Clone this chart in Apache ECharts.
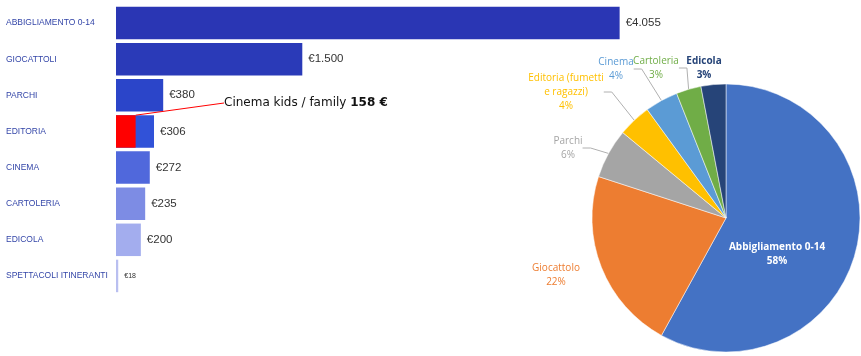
<!DOCTYPE html>
<html>
<head>
<meta charset="utf-8">
<script src="https://cdn.jsdelivr.net/npm/echarts@6/dist/echarts.min.js"></script>
<style>
html,body{margin:0;padding:0;background:#fff;}
#chart{width:861px;height:356px;}
</style>
</head>
<body>
<div id="chart"></div>
<script>
// ---- data ----
const categories = ['ABBIGLIAMENTO 0-14','GIOCATTOLI','PARCHI','EDITORIA','CINEMA','CARTOLERIA','EDICOLA','SPETTACOLI ITINERANTI'];
const spendValues = [4055, 1500, 380, 306, 272, 235, 200, 18];
const valueLabels = ['€4.055','€1.500','€380','€306','€272','€235','€200','€18'];
const cinemaKidsValues = [null, null, null, 158, null, null, null, null];
const cinemaKidsText = 'Cinema kids / family';
const cinemaKidsAmount = '158 €';
const pieNames = ['Abbigliamento 0-14','Giocattolo','Parchi','Editoria (fumetti\ne ragazzi)','Cinema','Cartoleria','Edicola'];
const piePercent = [58, 22, 6, 4, 4, 3, 3];

// ---- styles ----
const barColors = ['#2a36b4','#2a3ab8','#2b45c9','#3152d8','#5068dc','#7d8ce4','#a3adee','#b9bff0'];
const pieColors = ['#4472c4','#ed7d31','#a5a5a5','#ffc000','#5b9bd5','#70ad47','#264478'];
const pieLabelColors = ['#ffffff','#ed7d31','#a5a5a5','#ffc000','#5b9bd5','#70ad47','#264478'];
const pieLabelWeight = ['bold','normal','normal','normal','normal','normal','bold'];
const pieLabelPos = [[777,254],[556,275],[568,148],[566,92],[616,69],[656,68],[704,68]];
const pieLineShow = [false,false,true,true,true,true,false];

const chart = echarts.init(document.getElementById('chart'));
chart.setOption({
  animation: false,
  grid: {left: 116, top: 5, width: 621, height: 289, containLabel: false},
  xAxis: {type: 'value', min: 0, max: 5000, show: false},
  yAxis: {
    type: 'category', data: categories, inverse: true,
    axisLine: {show: false}, axisTick: {show: false},
    axisLabel: {align: 'left', margin: 110, color: '#3446a8', fontSize: 8.5,
      fontFamily: 'Liberation Sans', fontWeight: 'normal'}
  },
  series: [
    {
      type: 'bar', barCategoryGap: '10%',
      data: spendValues.map((v, i) => ({
        value: v,
        itemStyle: {color: barColors[i]},
        label: {fontSize: i === 7 ? 7 : 11.5}
      })),
      label: {show: true, position: 'right', distance: 6, color: '#333',
        fontFamily: 'Liberation Sans',
        formatter: p => valueLabels[p.dataIndex]}
    },
    {
      type: 'bar', barGap: '-100%', barCategoryGap: '10%', z: 3,
      data: cinemaKidsValues,
      itemStyle: {color: '#ff0000'},
      label: {
        show: true, position: 'insideTop',
        formatter: () => cinemaKidsText + ' {b|' + cinemaKidsAmount + '}',
        color: '#111', fontSize: 12, fontFamily: 'DejaVu Sans',
        rich: {b: {fontWeight: 'bold', fontSize: 12, fontFamily: 'DejaVu Sans', color: '#111'}}
      },
      labelLayout: {x: 224, y: 103, align: 'left', verticalAlign: 'middle'},
      labelLine: {show: true, lineStyle: {color: '#ff0000', width: 1}}
    },
    {
      type: 'pie', center: [726, 218], radius: 134, startAngle: 90, clockwise: true,
      data: piePercent.map((v, i) => ({
        name: pieNames[i], value: v,
        itemStyle: {color: pieColors[i]},
        label: {color: pieLabelColors[i], fontWeight: pieLabelWeight[i],
          position: i === 0 ? 'inside' : 'outside'},
        labelLine: {show: pieLineShow[i]}
      })),
      itemStyle: {borderColor: '#fff', borderWidth: 0.5},
      label: {show: true, fontSize: 10, fontFamily: 'Open Sans',
        lineHeight: 14, align: 'center', formatter: '{b}\n{d}%'},
      labelLine: {length: 8, length2: 8, lineStyle: {color: '#b0b0b0', width: 1}},
      labelLayout: p => ({x: pieLabelPos[p.dataIndex][0], y: pieLabelPos[p.dataIndex][1],
        align: 'center', verticalAlign: 'middle'})
    }
  ]
});
</script>
</body>
</html>
